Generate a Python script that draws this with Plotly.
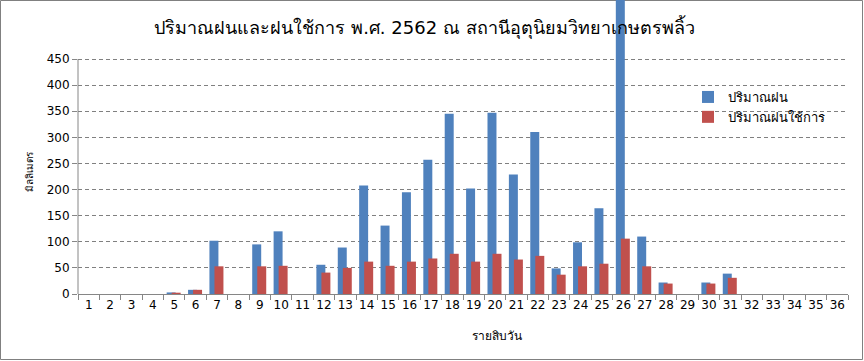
import plotly.graph_objects as go

days = [str(i) for i in range(1, 37)]
rain = [0, 0, 0, 0, 3, 8, 102, 0, 95, 120, 0, 56, 89, 208, 131, 195, 257, 345,
        202, 347, 229, 310, 49, 99, 164, 570, 110, 22, 0, 22, 39, 0, 0, 0, 0, 0]
rain_eff = [0, 0, 0, 0, 2.5, 8, 53, 0, 53, 54, 0, 41, 50, 62, 54, 62, 68, 77,
            62, 77, 66, 73, 37, 53, 58, 106, 53, 20, 0, 20, 31, 0, 0, 0, 0, 0]
y_ticks = [0, 50, 100, 150, 200, 250, 300, 350, 400, 450]
name_rain = "ปริมาณฝน"
name_eff = "ปริมาณฝนใช้การ"
title_text = "ปริมาณฝนและฝนใช้การ พ.ศ. 2562 ณ สถานีอุตุนิยมวิทยาเกษตรพลิ้ว"
x_title = "รายสิบวัน"
y_title = "มิลลิเมตร"

FONT = "Tahoma, 'DejaVu Sans', sans-serif"

W, H = 864, 361
L, R, B = 78, 848, 294          # plot left / right / baseline pixel
TOP_450 = 59                     # pixel where 450 sits
pw, ph = R - L, B                # plot area spans from the very top (t=0)
ymax = 450 * B / (B - TOP_450)   # so bars may rise above 450 like the original


def px(xp):
    return (xp - L) / pw


def py(yp):
    return (B - yp) / ph


fig = go.Figure()
fig.add_trace(go.Bar(x=days, y=rain, name=name_rain, marker_color="#4F81BD",
                     width=0.42, offset=-0.355, marker_line_width=0))
fig.add_trace(go.Bar(x=days, y=rain_eff, name=name_eff, marker_color="#C0504D",
                     width=0.42, offset=-0.12, marker_line_width=0))

fig.update_layout(
    width=W, height=H,
    margin=dict(l=L, r=W - R, t=0, b=H - B, autoexpand=False),
    barmode="overlay",
    plot_bgcolor="rgba(0,0,0,0)", paper_bgcolor="white",
    font=dict(family=FONT, size=12, color="black"),
    title=dict(text=title_text, x=424.5 / W, xref="container", xanchor="center",
               y=1 - 28 / H, yref="container", yanchor="middle",
               font=dict(size=18, color="black", family=FONT)),
    showlegend=True,
    legend=dict(x=px(688), y=py(82), xanchor="left", yanchor="top",
                bgcolor="rgba(0,0,0,0)", font=dict(size=13),
                itemwidth=30),
    xaxis=dict(type="category", showline=True, linecolor="#868686", linewidth=1,
               ticks="outside", tickson="boundaries", ticklen=5, tickcolor="#868686",
               showgrid=False, automargin=False, tickfont=dict(size=12),
               tickangle=0, range=[-0.5, 35.5]),
    yaxis=dict(range=[0, ymax], tickvals=y_ticks, showline=False,
               ticks="outside", ticklen=5, tickcolor="#868686",
               showgrid=True, gridcolor="#808080", griddash="4px,3px", gridwidth=1,
               zeroline=False, automargin=False, tickfont=dict(size=12)),
    annotations=[
        dict(text=x_title, xref="paper", yref="paper", x=px(497),
             y=py(336), xanchor="center", yanchor="middle",
             showarrow=False, font=dict(size=12)),
        dict(text=y_title, xref="paper", yref="paper", x=px(29),
             y=py(172), xanchor="center", yanchor="middle", textangle=-90,
             showarrow=False, font=dict(size=10)),
    ],
    shapes=[
        # y axis line, only up to 450
        dict(type="line", xref="paper", yref="y", x0=0, x1=0, y0=0, y1=450,
             line=dict(color="#868686", width=1), layer="above"),
        # outer chart frame
        dict(type="rect", xref="paper", yref="paper",
             x0=px(0.5), x1=px(862.5), y0=py(359.5), y1=py(0.5),
             line=dict(color="#808080", width=1), layer="below"),
    ],
)

fig.write_html(
    "out.html",
    config={"displayModeBar": False, "staticPlot": True},
    post_script="document.body.style.margin='0';document.body.style.overflow='hidden';",
)
